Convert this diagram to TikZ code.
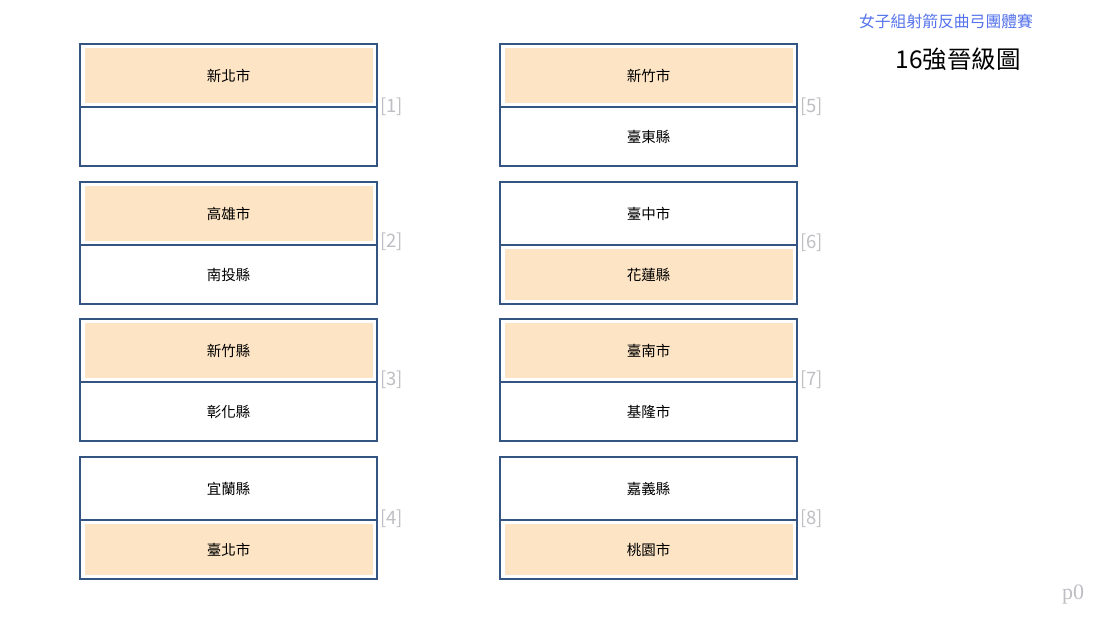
\documentclass[tikz,border=0pt]{standalone}
\usepackage{fontspec}
\setmainfont{Noto Sans CJK TC}
\newfontfamily\pagefont{Liberation Serif}
\usepackage{xcolor}
\usetikzlibrary{positioning}
\definecolor{boxline}{RGB}{52,84,130}
\definecolor{winfill}{RGB}{252,228,196}
\definecolor{seedgray}{RGB}{190,190,195}
\definecolor{titleblue}{RGB}{85,115,235}
\tikzset{
  team/.style={draw=boxline, line width=2pt, minimum width=297pt, minimum height=59pt,
    inner sep=0pt, outer sep=0pt, font=\fontsize{14.5}{16}\selectfont},
  upper/.style={minimum height=63pt},
  winner/.style={team, path picture={\fill[winfill]
    ([shift={(4.5pt,-4pt)}]path picture bounding box.north west) rectangle
    ([shift={(-4.5pt,4pt)}]path picture bounding box.south east);}},
  seed/.style={text=seedgray, anchor=west, inner sep=0pt, font=\fontsize{18.5}{20}\selectfont}
}

\begin{document}
\begin{tikzpicture}[x=1pt, y=-1pt]
\useasboundingbox (0,0) rectangle (1103,618);
% left column
\node[winner, upper] (a1) at (228.5,75.5) {新北市};
\node[team, below=0pt of a1] (b1) {};
\node[winner, upper] (a2) at (228.5,213.5) {高雄市};
\node[team, below=0pt of a2] (b2) {南投縣};
\node[winner, upper] (a3) at (228.5,350.5) {新竹縣};
\node[team, below=0pt of a3] (b3) {彰化縣};
\node[team, upper] (a4) at (228.5,488.5) {宜蘭縣};
\node[winner, below=0pt of a4] (b4) {臺北市};
% right column
\node[winner, upper] (a5) at (648.5,75.5) {新竹市};
\node[team, below=0pt of a5] (b5) {臺東縣};
\node[team, upper] (a6) at (648.5,213.5) {臺中市};
\node[winner, below=0pt of a6] (b6) {花蓮縣};
\node[winner, upper] (a7) at (648.5,350.5) {臺南市};
\node[team, below=0pt of a7] (b7) {基隆市};
\node[team, upper] (a8) at (648.5,488.5) {嘉義縣};
\node[winner, below=0pt of a8] (b8) {桃園市};
% match numbers
\node[seed, right=3pt of a1.south east, yshift=0pt] (s1) {[1]};
\node[seed, right=3pt of a2.south east, yshift=3pt] (s2) {[2]};
\node[seed, right=3pt of a3.south east, yshift=2pt] (s3) {[3]};
\node[seed, right=3pt of a4.south east, yshift=1pt] (s4) {[4]};
\node[seed, right=3pt of a5.south east, yshift=0pt] (s5) {[5]};
\node[seed, right=3pt of a6.south east, yshift=2pt] (s6) {[6]};
\node[seed, right=3pt of a7.south east, yshift=2pt] (s7) {[7]};
\node[seed, right=3pt of a8.south east, yshift=1pt] (s8) {[8]};
% titles
\node[text=titleblue, font=\fontsize{15.8}{18}\selectfont] (title) at (946,21) {女子組射箭反曲弓團體賽};
\node[font=\fontsize{24.5}{28}\selectfont] (subtitle) at (958,59) {16強晉級圖};
\node[text=seedgray, font=\pagefont\fontsize{22}{24}\selectfont] (page) at (1073,595) {p0};
\end{tikzpicture}
\end{document}
